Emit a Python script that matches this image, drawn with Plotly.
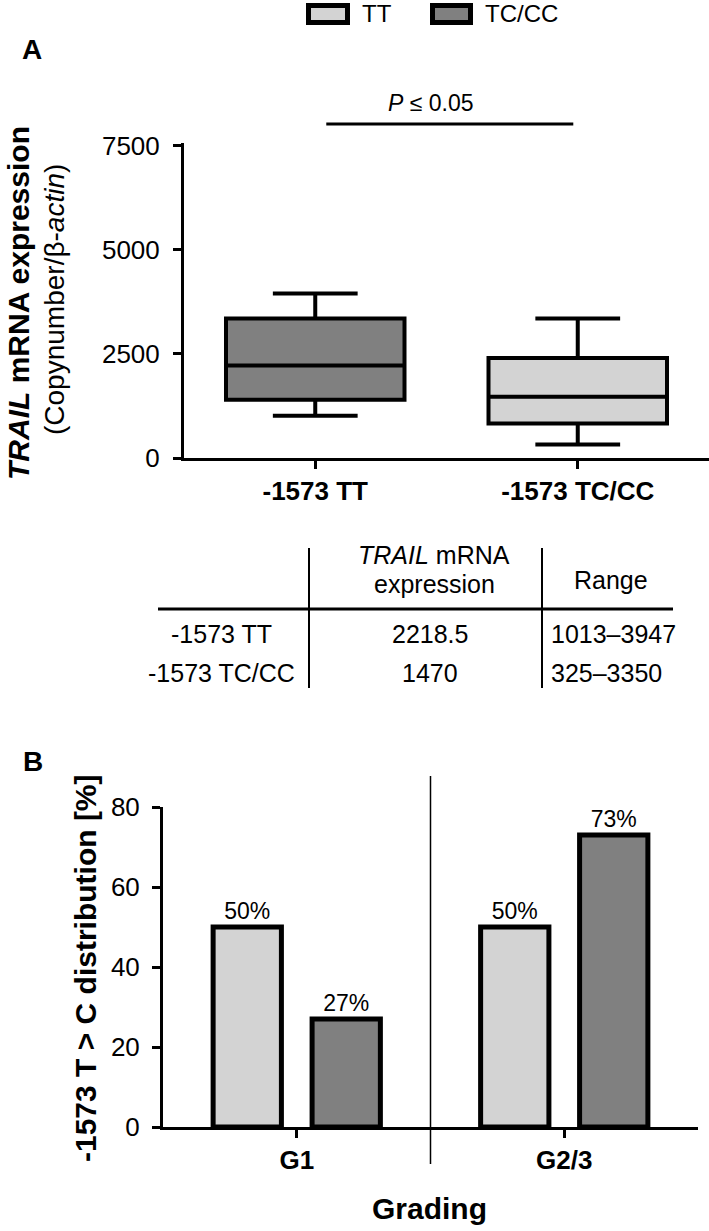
import plotly.graph_objects as go

# ---------------- data ----------------
# Panel A: TRAIL mRNA expression box plot
box_groups = ["-1573 TT", "-1573 TC/CC"]
box_lower = [1013, 325]
box_q1 = [1400, 830]
box_median = [2218.5, 1470]
box_q3 = [3350, 2400]
box_upper = [3947, 3350]
box_colors = ["#808080", "#d3d3d3"]
a_ticks = [0, 2500, 5000, 7500]

# Panel B: -1573 T>C distribution by grading
grades = ["G1", "G2/3"]
pct_TT = [50, 50]
pct_TCCC = [27, 73]
b_ticks = [0, 20, 40, 60, 80]

legend_names = ["TT", "TC/CC"]
legend_colors = ["#d3d3d3", "#808080"]

FONT = "Arial, Liberation Sans, Helvetica, sans-serif"
W, H = 709, 1231


def px(x):
    return x / W


def py(y):
    return (H - y) / H


fig = go.Figure()

# ---------------- Panel A boxes ----------------
for i, g in enumerate(box_groups):
    fig.add_trace(go.Box(
        x=[g], q1=[box_q1[i]], median=[box_median[i]], q3=[box_q3[i]],
        lowerfence=[box_lower[i]], upperfence=[box_upper[i]],
        fillcolor=box_colors[i], line=dict(color="black", width=4),
        width=0.68, whiskerwidth=0.475, boxpoints=False,
        xaxis="x", yaxis="y", showlegend=False, hoverinfo="skip"))

# ---------------- Panel B bars ----------------
fig.add_trace(go.Bar(
    x=grades, y=pct_TT, name=legend_names[0],
    marker=dict(color=legend_colors[0], line=dict(color="black", width=5)),
    texttemplate="%{y}%", textposition="outside",
    textfont=dict(size=23, color="black", family=FONT),
    cliponaxis=False, xaxis="x2", yaxis="y2", showlegend=False, hoverinfo="skip"))
fig.add_trace(go.Bar(
    x=grades, y=pct_TCCC, name=legend_names[1],
    marker=dict(color=legend_colors[1], line=dict(color="black", width=5)),
    texttemplate="%{y}%", textposition="outside",
    textfont=dict(size=23, color="black", family=FONT),
    cliponaxis=False, xaxis="x2", yaxis="y2", showlegend=False, hoverinfo="skip"))

axis_common = dict(showline=True, linecolor="black", linewidth=3,
                   ticks="outside", ticklen=8, tickwidth=3, tickcolor="black",
                   showgrid=False, zeroline=False, fixedrange=True, automargin=False)

fig.update_layout(
    template="none",
    width=W, height=H, autosize=False,
    margin=dict(l=0, r=0, t=0, b=0, pad=0, autoexpand=False),
    paper_bgcolor="white", plot_bgcolor="white",
    font=dict(family=FONT, color="black"),
    boxmode="overlay",
    barmode="group", bargap=0.26, bargroupgap=0.31,
    xaxis=dict(**axis_common, domain=[px(184), 1.0], range=[-0.5, 1.5],
               type="category", anchor="y",
               tickfont=dict(size=26, weight="bold", family=FONT)),
    yaxis=dict(**axis_common, domain=[py(458), py(143)], range=[0, 7560],
               tickvals=a_ticks, anchor="x", ticklabelstandoff=8,
               tickfont=dict(size=26, family=FONT)),
    xaxis2=dict(**axis_common, domain=[px(163), px(698)], range=[-0.5, 1.5],
                type="category", anchor="y2",
                tickfont=dict(size=26, weight="bold", family=FONT)),
    yaxis2=dict(**axis_common, domain=[py(1127), py(807)], range=[0, 80],
                tickvals=b_ticks, anchor="x2", ticklabelstandoff=7,
                tickfont=dict(size=26, family=FONT)),
)

shapes = []
ann = []

# ---------------- legend (top) ----------------
leg_boxes = [(306, 350), (430, 473)]
leg_text_x = [360, 483]
for (x0, x1), name, col, tx in zip(leg_boxes, legend_names, legend_colors, leg_text_x):
    shapes.append(dict(type="rect", xref="paper", yref="paper",
                       x0=px(x0 + 2.5), x1=px(x1 - 2.5), y0=py(5.5), y1=py(22.5),
                       fillcolor=col, line=dict(color="black", width=5)))
    ann.append(dict(text=name, xref="paper", yref="paper", x=px(tx), y=py(14),
                    xanchor="left", yanchor="middle", showarrow=False,
                    font=dict(size=24, family=FONT)))

# ---------------- panel labels ----------------
ann.append(dict(text="<b>A</b>", xref="paper", yref="paper", x=px(32), y=py(49),
                xanchor="center", yanchor="middle", showarrow=False,
                font=dict(size=28, family=FONT)))
ann.append(dict(text="<b>B</b>", xref="paper", yref="paper", x=px(33), y=py(761),
                xanchor="center", yanchor="middle", showarrow=False,
                font=dict(size=28, family=FONT)))

# ---------------- Panel A y title ----------------
ann.append(dict(text="<b><i>TRAIL</i> mRNA expression</b>", xref="paper", yref="paper",
                x=px(19), y=py(303), textangle=-90, xanchor="center", yanchor="middle",
                showarrow=False, font=dict(size=30, family=FONT)))
ann.append(dict(text="(Copynumber/β-<i>actin</i>)", xref="paper", yref="paper",
                x=px(54), y=py(300), textangle=-90, xanchor="center", yanchor="middle",
                showarrow=False, font=dict(size=28, family=FONT)))

# ---------------- significance bar ----------------
shapes.append(dict(type="line", xref="x", yref="paper", x0=0.042, x1=0.983,
                   y0=py(124), y1=py(124), line=dict(color="black", width=3)))
ann.append(dict(text="<i>P</i> ≤ 0.05", xref="x", yref="paper", x=0.44, y=py(103),
                xanchor="center", yanchor="middle", showarrow=False,
                font=dict(size=23, family=FONT)))

# ---------------- table ----------------
shapes.append(dict(type="line", xref="paper", yref="paper", x0=px(309), x1=px(309),
                   y0=py(548), y1=py(688), line=dict(color="black", width=2)))
shapes.append(dict(type="line", xref="paper", yref="paper", x0=px(542), x1=px(542),
                   y0=py(548), y1=py(688), line=dict(color="black", width=2)))
shapes.append(dict(type="line", xref="paper", yref="paper", x0=px(158), x1=px(673),
                   y0=py(609), y1=py(609), line=dict(color="black", width=3)))
tfont = dict(size=25, family=FONT)
ann.append(dict(text="<i>TRAIL</i> mRNA", xref="paper", yref="paper", x=px(434), y=py(555),
                xanchor="center", yanchor="middle", showarrow=False, font=tfont))
ann.append(dict(text="expression", xref="paper", yref="paper", x=px(434), y=py(584),
                xanchor="center", yanchor="middle", showarrow=False, font=tfont))
ann.append(dict(text="Range", xref="paper", yref="paper", x=px(611), y=py(580),
                xanchor="center", yanchor="middle", showarrow=False, font=tfont))
row_y = [634, 673]
for i, g in enumerate(box_groups):
    ann.append(dict(text=g, xref="paper", yref="paper", x=px(221), y=py(row_y[i]),
                    xanchor="center", yanchor="middle", showarrow=False, font=tfont))
    ann.append(dict(text=f"{box_median[i]:g}", xref="paper", yref="paper", x=px(430),
                    y=py(row_y[i]), xanchor="center", yanchor="middle",
                    showarrow=False, font=tfont))
    ann.append(dict(text=f"{box_lower[i]}–{box_upper[i]}", xref="paper", yref="paper",
                    x=px(549), y=py(row_y[i]), xanchor="left", yanchor="middle",
                    showarrow=False, font=tfont))

# ---------------- Panel B decorations ----------------
shapes.append(dict(type="line", xref="x2", yref="paper", x0=0.5, x1=0.5,
                   y0=py(776), y1=py(1164), line=dict(color="black", width=1.5)))
ann.append(dict(text="<b>-1573 T > C distribution [%]</b>", xref="paper", yref="paper",
                x=px(85), y=py(968), textangle=-90, xanchor="center", yanchor="middle",
                showarrow=False, font=dict(size=30, family=FONT)))
ann.append(dict(text="<b>Grading</b>", xref="paper", yref="paper", x=px(430), y=py(1208),
                xanchor="center", yanchor="middle", showarrow=False,
                font=dict(size=30, family=FONT)))

fig.update_layout(shapes=shapes, annotations=ann)
fig.write_html("out.html", config={"displayModeBar": False},
               post_script="document.body.style.margin='0';document.body.style.overflow='hidden';")
